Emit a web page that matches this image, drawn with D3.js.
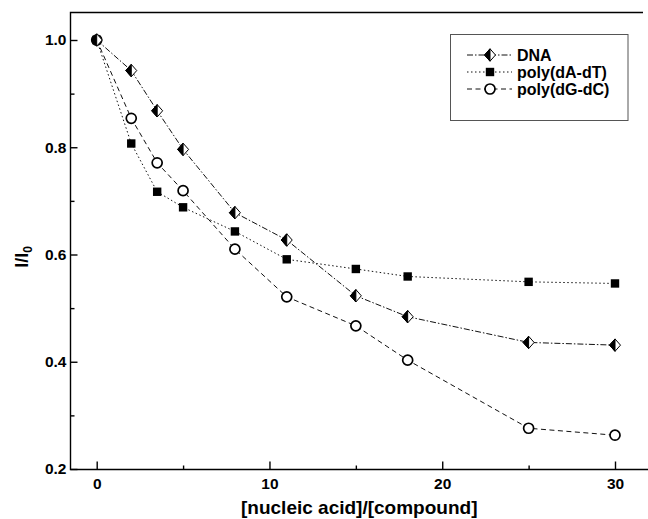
<!DOCTYPE html>
<html>
<head>
<meta charset="utf-8">
<script src="https://cdn.jsdelivr.net/npm/d3@7"></script>
<style>
  body { margin: 0; background: #fff; }
  text { font-family: "Liberation Sans", Arial, Helvetica, sans-serif; font-weight: bold; fill: #000; }
</style>
</head>
<body>
<svg id="chart" width="648" height="519"></svg>
<script>
// Titration: ratio of nucleic acid to compound vs. relative intensity I/I0
const ratio  = [0, 2, 3.5, 5, 8, 11, 15, 18, 25, 30];
const dna    = [1.0, 0.943, 0.868, 0.796, 0.678, 0.627, 0.523, 0.484, 0.436, 0.431];
const polyAT = [1.0, 0.807, 0.717, 0.688, 0.643, 0.591, 0.573, 0.559, 0.549, 0.546];
const polyGC = [1.0, 0.854, 0.771, 0.719, 0.610, 0.521, 0.467, 0.403, 0.276, 0.263];

const seriesNames = ["DNA", "poly(dA-dT)", "poly(dG-dC)"];
const xMajor = [0, 10, 20, 30];
const xMinor = [5, 15, 25];
const yMajor = [0.2, 0.4, 0.6, 0.8, 1.0];
const yMinor = [0.3, 0.5, 0.7, 0.9];

const svg = d3.select("#chart");

const frame = { left: 70.5, top: 12.5, bottom: 469.5, right: 648, topRight: 643 };

const x = d3.scaleLinear().domain([0, 30]).range([96.7, 615]);
const y = d3.scaleLinear().domain([0.2, 1.0]).range([469, 40]);

// frame: left axis, bottom axis, top border
svg.append("path")
  .attr("d", `M${frame.topRight},${frame.top}H${frame.left}V${frame.bottom}H${frame.right}`)
  .attr("fill", "none").attr("stroke", "#000").attr("stroke-width", 1.4);

// x axis (ticks point inward)
const gx = svg.append("g").attr("transform", `translate(0,${frame.bottom})`);
gx.call(d3.axisBottom(x).tickValues(xMajor).tickSize(-8).tickPadding(8).tickFormat(d3.format("d")));
gx.append("g").call(d3.axisBottom(x).tickValues(xMinor).tickSize(-4).tickFormat(""));
gx.selectAll(".domain").remove();
gx.selectAll("line").attr("stroke", "#000").attr("stroke-width", 1.4);
gx.selectAll("text").attr("font-size", 15.5).attr("font-family", null).attr("fill", "#000");

// y axis (ticks point inward)
const gy = svg.append("g").attr("transform", `translate(${frame.left},0)`);
gy.call(d3.axisLeft(y).tickValues(yMajor).tickSize(-7).tickPadding(4).tickFormat(d3.format(".1f")));
gy.append("g").call(d3.axisLeft(y).tickValues(yMinor).tickSize(-4).tickFormat(""));
gy.selectAll(".domain").remove();
gy.selectAll("line").attr("stroke", "#000").attr("stroke-width", 1.4);
gy.selectAll("text").attr("font-size", 15.5).attr("font-family", null).attr("fill", "#000");

// axis titles
svg.append("text")
  .attr("x", (frame.left + frame.right) / 2).attr("y", 514)
  .attr("text-anchor", "middle").attr("font-size", 19)
  .text("[nucleic acid]/[compound]");

const yt = svg.append("text")
  .attr("transform", "translate(28,257) rotate(-90)")
  .attr("text-anchor", "middle").attr("font-size", 18);
yt.append("tspan").text("I/I");
yt.append("tspan").attr("font-size", 12).attr("dy", 4).text("0");

// series definitions
const series = [
  { name: seriesNames[0], values: dna,    dash: "6,2,1.5,2", marker: "diamond" },
  { name: seriesNames[1], values: polyAT, dash: "1.5,2.5",   marker: "square" },
  { name: seriesNames[2], values: polyGC, dash: "5,3.5",     marker: "circle" }
];

function drawMarker(g, kind, cx, cy) {
  if (kind === "square") {
    g.append("rect").attr("x", cx - 4.2).attr("y", cy - 4.2).attr("width", 8.4).attr("height", 8.4)
      .attr("fill", "#000");
  } else if (kind === "circle") {
    g.append("circle").attr("cx", cx).attr("cy", cy).attr("r", 5)
      .attr("fill", "#fff").attr("stroke", "#000").attr("stroke-width", 1.7);
  } else {
    const w = 5.5, h = 6.2;
    g.append("path")
      .attr("d", `M${cx},${cy - h}L${cx + w},${cy}L${cx},${cy + h}L${cx - w},${cy}Z`)
      .attr("fill", "#fff").attr("stroke", "#000").attr("stroke-width", 1);
    g.append("path")
      .attr("d", `M${cx},${cy - h}L${cx},${cy + h}L${cx - w},${cy}Z`)
      .attr("fill", "#000").attr("stroke", "#000").attr("stroke-width", 1);
  }
}

const line = d3.line().x((d, i) => x(ratio[i])).y(d => y(d));

const gLines = svg.append("g");
series.forEach(s => {
  gLines.append("path").datum(s.values)
    .attr("d", line)
    .attr("fill", "none").attr("stroke", "#111").attr("stroke-width", 1)
    .attr("stroke-dasharray", s.dash);
});

// markers: squares first, then circles, diamonds on top
const gMarks = svg.append("g");
[series[1], series[2], series[0]].forEach(s => {
  s.values.forEach((v, i) => drawMarker(gMarks, s.marker, x(ratio[i]), y(v)));
});

// legend
const leg = svg.append("g");
leg.append("rect").attr("x", 450.5).attr("y", 34.5).attr("width", 177.5).attr("height", 86)
  .attr("fill", "#fff").attr("stroke", "#555").attr("stroke-width", 1);
series.forEach((s, i) => {
  const ly = 55 + i * 17;
  leg.append("line").attr("x1", 467).attr("x2", 512).attr("y1", ly).attr("y2", ly)
    .attr("stroke", "#111").attr("stroke-width", 1).attr("stroke-dasharray", s.dash);
  drawMarker(leg, s.marker, 490, ly);
  leg.append("text").attr("x", 517).attr("y", ly).attr("dy", "0.36em")
    .attr("font-size", 16).text(s.name);
});
</script>
</body>
</html>
